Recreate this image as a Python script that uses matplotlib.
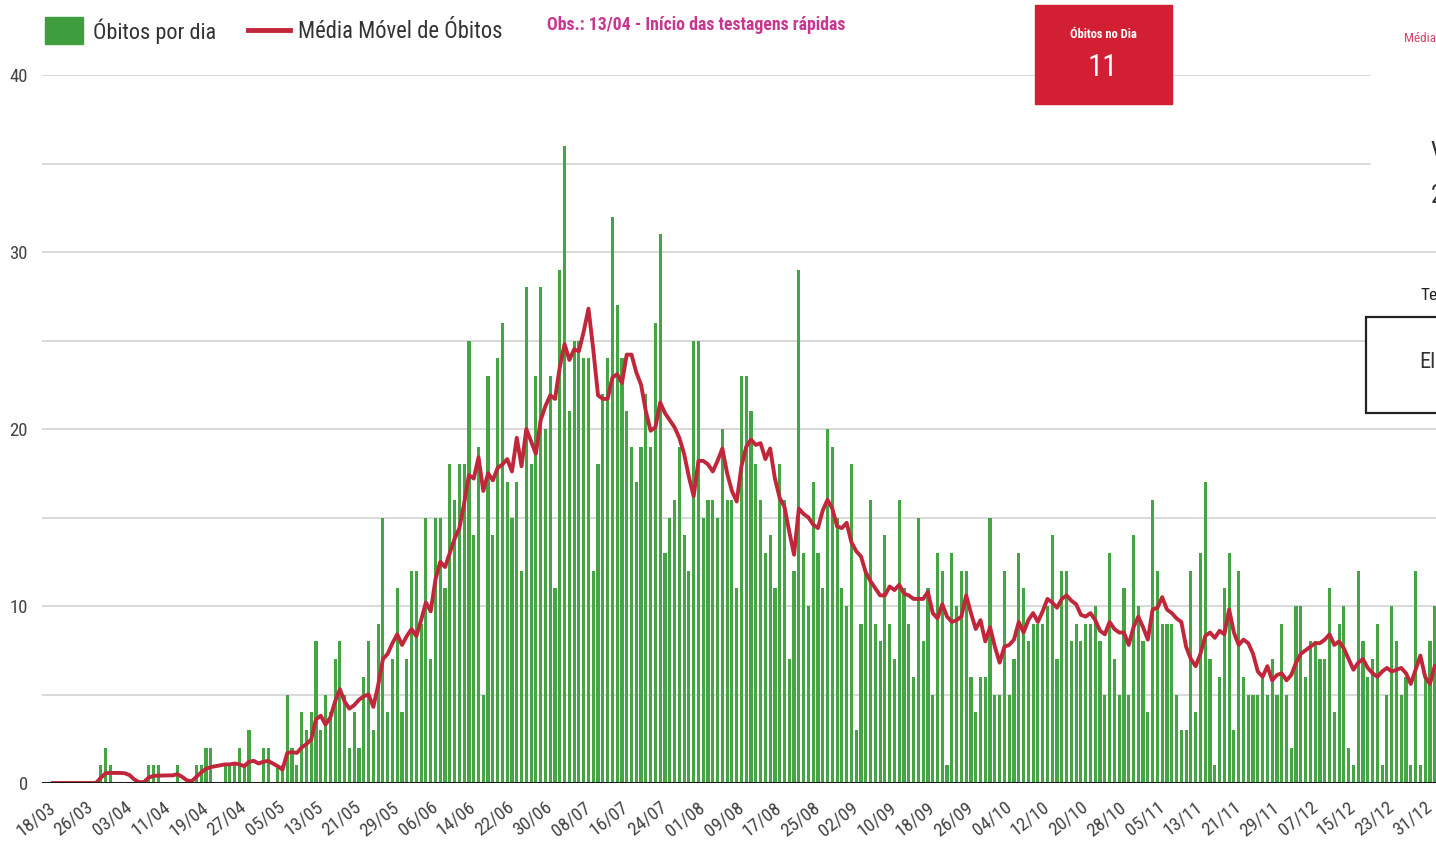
import matplotlib
matplotlib.use('Agg')
import matplotlib.pyplot as plt
import matplotlib.dates as mdates
from matplotlib.patches import Rectangle
from matplotlib.lines import Line2D
import pandas as pd

# ---------------- data ----------------
start_date = '2020-03-18'

obitos_por_dia = (
    [0, 0, 0, 0, 0, 0, 0, 0, 0, 0]
    + [1, 2, 1, 0, 0, 0, 0, 0, 0, 0, 1, 1, 1, 0, 0, 0, 1, 0, 0, 0,
       1, 1, 2, 2, 0, 0, 1, 1, 1, 2, 1, 3, 0, 0, 2, 2, 0, 1, 1, 5,
       2, 1, 4, 3, 4, 8, 3, 5, 4]
    + [7, 8, 5, 2, 4, 2, 6, 8, 3, 9, 15, 4, 7, 11, 4, 7, 12, 12, 9, 15, 7]
    + [15, 15, 11, 18, 16, 18, 18, 25, 14, 19, 5, 23, 14, 24, 26, 17, 15, 17, 12, 28, 18]
    + [23, 28, 20, 23, 11, 29, 36, 21, 25, 25, 24, 24, 12, 18, 22, 24, 32, 27, 24, 21, 19]
    + [17, 19, 22, 19, 26, 31, 13, 15, 16, 19, 14, 12, 25, 25, 15, 16, 16, 15, 20, 16]
    + [16, 11, 23, 23, 21, 18, 16, 13, 14, 11, 18, 16, 7, 12, 29, 13, 10, 17, 13, 11, 20]
    + [19, 15, 11, 10, 18, 3, 9, 12, 16, 9, 8, 14, 9, 7, 16, 11, 9, 6, 15, 8, 11]
    + [5, 13, 12, 1, 13, 10, 12, 12, 6, 4, 6, 6, 15, 5, 5, 12, 5, 7, 13, 11, 8]
    + [9, 9, 9, 10, 14, 7, 12, 12, 8, 9, 8, 9, 9, 10, 8, 5, 13, 7, 5, 11, 5, 14]
    + [10, 8, 4, 16, 12, 9, 9, 9, 5, 3, 3, 12, 4, 13, 17, 7, 1, 6, 11, 13, 3]
    + [12, 6, 5, 5, 5, 6, 5, 7, 5, 9, 5, 2, 10, 10, 6, 8, 8, 7, 7, 11, 4, 9]
    + [10, 2, 1, 12, 8, 6, 7, 9, 1, 5, 10, 8, 5, 6, 1, 12, 1, 6, 8, 10]
)

media_movel = (
    [0, 0, 0, 0, 0, 0, 0, 0, 0, 0]
    + [0.3, 0.55, 0.57, 0.57, 0.57, 0.55, 0.45, 0.2, 0.05, 0.05,
       0.3, 0.4, 0.42, 0.42, 0.43, 0.43, 0.5, 0.35, 0.15, 0.1,
       0.35, 0.6, 0.8, 0.9, 0.95, 1.0, 1.05, 1.05, 1.1, 1.05,
       0.95, 1.2, 1.25, 1.1, 1.2, 1.25, 1.1, 0.95, 0.75, 1.7,
       1.75, 1.7, 2.0, 2.2, 2.45, 3.6, 3.8, 3.3, 3.7]
    + [4.6, 5.3, 4.6, 4.2, 4.4, 4.7, 4.9, 5.0, 4.3, 5.5, 7.0, 7.3, 7.9, 8.4, 7.8, 8.3, 8.7, 8.3, 9.2, 10.2, 9.7]
    + [11.5, 12.5, 12.2, 13.0, 13.8, 14.4, 15.8, 17.4, 17.2, 18.4, 16.5, 17.5, 17.1, 17.8, 18.0, 18.3, 17.6, 19.5, 17.9, 20.0, 19.3]
    + [18.6, 20.5, 21.3, 21.9, 21.7, 23.5, 24.8, 23.9, 24.5, 24.4, 25.5, 26.8, 24.5, 21.9, 21.7, 21.7, 22.9, 23.1, 22.6, 24.2, 24.2]
    + [23.2, 22.5, 21.0, 19.9, 20.1, 21.5, 20.9, 20.5, 20.1, 19.5, 18.6, 17.3, 16.2, 18.2, 18.2, 18.0, 17.6, 18.2, 18.9, 17.5]
    + [16.5, 15.9, 17.9, 19.0, 19.4, 19.1, 19.2, 18.3, 18.9, 17.2, 16.1, 15.6, 14.2, 12.9, 15.5, 15.2, 15.0, 14.6, 14.4, 15.4, 16.0]
    + [15.5, 14.5, 14.4, 14.7, 13.6, 13.1, 12.8, 11.9, 11.4, 11.0, 10.6, 10.6, 11.1, 10.9, 11.2, 10.7, 10.6, 10.4, 10.4, 10.4, 10.8]
    + [9.6, 9.3, 10.1, 9.4, 9.1, 9.2, 9.4, 10.6, 9.6, 8.7, 9.2, 8.0, 8.8, 7.7, 6.8, 7.7, 7.8, 8.1, 9.1, 8.5, 9.2]
    + [9.6, 9.1, 9.7, 10.4, 10.2, 9.9, 10.4, 10.6, 10.3, 10.1, 9.5, 9.4, 9.6, 9.2, 8.6, 8.4, 9.1, 8.7, 8.5, 8.5, 7.8, 8.8]
    + [9.4, 8.8, 8.1, 9.8, 9.9, 10.5, 9.8, 9.6, 9.3, 9.1, 7.7, 7.0, 6.6, 7.3, 8.3, 8.5, 8.2, 8.6, 8.4, 9.8, 8.5]
    + [7.8, 8.1, 7.9, 7.3, 6.3, 6.0, 6.6, 5.8, 6.1, 6.2, 5.8, 6.1, 6.8, 7.3, 7.5, 7.7, 7.9, 7.9, 8.1, 8.4, 7.8, 8.0]
    + [7.6, 7.0, 6.4, 6.8, 7.0, 6.5, 6.2, 6.0, 6.3, 6.5, 6.3, 6.4, 6.5, 6.2, 5.6, 6.4, 7.2, 6.0, 5.6, 6.6]
)

tick_labels = ['18/03', '26/03', '03/04', '11/04', '19/04', '27/04', '05/05', '13/05',
               '21/05', '29/05', '06/06', '14/06', '22/06', '30/06', '08/07', '16/07',
               '24/07', '01/08', '09/08', '17/08', '25/08', '02/09', '10/09', '18/09',
               '26/09', '04/10', '12/10', '20/10', '28/10', '05/11', '13/11', '21/11',
               '29/11', '07/12', '15/12', '23/12', '31/12']
tick_step_days = 8
y_ticks = [0, 10, 20, 30, 40]
grid_values = [5, 10, 15, 20, 25, 30, 35, 40]
obitos_no_dia = '11'

legend_bar = 'Óbitos por dia'
legend_line = 'Média Móvel de Óbitos'
obs_text = 'Obs.: 13/04 - Início das testagens rápidas'

# ---------------- style ----------------
GREEN = '#45a545'
RED = '#c1273b'
W, H = 1436, 852
FONT = ['Roboto Condensed', 'Liberation Sans Narrow', 'DejaVu Sans']
plt.rcParams['font.family'] = FONT

fig = plt.figure(figsize=(W / 100, H / 100), dpi=100)
fig.patch.set_facecolor('white')


def fx(x):
    return x / W


def fy(y):
    return 1 - y / H


ax = fig.add_axes([fx(42), fy(783), fx(1436) - fx(42), fy(75) - fy(783)])
dates = pd.date_range(start_date, periods=len(obitos_por_dia), freq='D')
d0 = mdates.date2num(dates[0])

ax.bar(dates, obitos_por_dia, width=0.66, color=GREEN, zorder=2, linewidth=0)
ax.plot(dates, media_movel, color=RED, lw=2.8, zorder=3, solid_joinstyle='round')

px_per_day = 4.781
ax.set_xlim(d0 + (42 - 53) / px_per_day, d0 + (1436 - 53) / px_per_day)
ax.set_ylim(0, 40)

# gridlines (some are hidden by panels on the right of the dashboard)
for g in grid_values:
    xmax = 1.0
    if g in (35, 40):
        xmax = (1370 - 42) / (1436 - 42)
    ax.axhline(g, color='#cfcfcf', lw=1.1, zorder=0, xmax=xmax)
ax.axhline(0, color='#1a1a1a', lw=2.2, zorder=4)

for s in ax.spines.values():
    s.set_visible(False)

ax.set_yticks(y_ticks)
ax.set_yticklabels([str(v) for v in y_ticks])
ax.tick_params(axis='y', length=0, pad=10, labelsize=13.5, labelcolor='#444444')

ax.set_xticks(dates[::tick_step_days])
ax.set_xticklabels(tick_labels, rotation=38, ha='right', va='center', rotation_mode='anchor')
ax.tick_params(axis='x', length=0, pad=16, labelsize=13.5, labelcolor='#444444')

# ---------------- legend / annotations ----------------
fig.patches.append(Rectangle((fx(45), fy(44)), fx(83) - fx(45), fy(17) - fy(44),
                             transform=fig.transFigure, color='#3f9f3f', zorder=5))
fig.text(fx(93), fy(31), legend_bar, fontsize=16, color='#333333', va='center', ha='left')
fig.lines.append(Line2D([fx(248), fx(290)], [fy(30), fy(30)], transform=fig.transFigure,
                        color=RED, lw=3.5))
fig.text(fx(298), fy(31), legend_line, fontsize=16.3, color='#333333', va='center', ha='left')
fig.text(fx(547), fy(25), obs_text, fontsize=12.8, color='#c8368f', va='center', ha='left',
         fontweight='bold')

# red KPI box
fig.patches.append(Rectangle((fx(1035), fy(104)), fx(1172) - fx(1035), fy(5) - fy(104),
                             transform=fig.transFigure, color='#d21f33', zorder=5))
fig.text(fx(1103), fy(35), 'Óbitos no Dia', fontsize=9, color='white', ha='center',
         va='center', zorder=6, fontweight='bold')
fig.text(fx(1103), fy(68), obitos_no_dia, fontsize=22, color='white', ha='center',
         va='center', zorder=6)

# partially visible widgets on the right
fig.text(fx(1404), fy(38), 'Média', fontsize=9.5, color='#d8486a', ha='left', va='center')
fig.text(fx(1430), fy(153), 'V', fontsize=18, color='#333333', ha='left', va='center')
fig.text(fx(1431), fy(196), '2', fontsize=18, color='#333333', ha='left', va='center')
fig.text(fx(1420), fy(295), 'Te', fontsize=12.5, color='#222222', ha='left', va='center')
fig.patches.append(Rectangle((fx(1366), fy(413)), fx(1445) - fx(1366), fy(317) - fy(413),
                             transform=fig.transFigure, facecolor='white', edgecolor='#222222',
                             lw=1.6, zorder=7))
fig.text(fx(1419), fy(362), 'El', fontsize=16, color='#333333', ha='left', va='center', zorder=8)

fig.savefig('out.png', dpi=100, facecolor='white')
